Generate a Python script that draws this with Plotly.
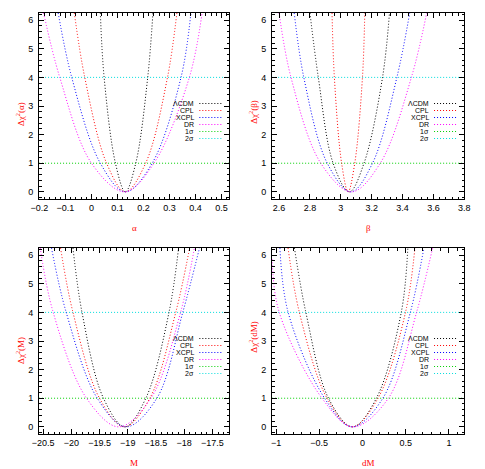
import plotly.graph_objects as go

# ---------------- data ----------------
MODELS = ["ΛCDM", "CPL", "XCPL", "DR"]
MODEL_COLORS = ["#000000", "#ff0000", "#0000ff", "#ff00ff"]
SIGMA_NAMES = ["1σ", "2σ"]
SIGMA_LEVELS = [1, 4]
SIGMA_COLORS = ["#00d000", "#00dddd"]

# Delta chi^2 levels at which each curve was read (frame top, 2σ, 1σ, minimum, 1σ, 2σ, frame top)
DCHI2_LEVELS = [6.25, 4, 1, 0, 1, 4, 6.25]

ALPHA_LCDM = [0.034, 0.0485, 0.092, 0.13, 0.17, 0.216, 0.236]
ALPHA_CPL = [-0.066, -0.026, 0.058, 0.13, 0.208, 0.292, 0.328]
ALPHA_XCPL = [-0.128, -0.076, 0.034, 0.13, 0.233, 0.344, 0.382]
ALPHA_DR = [-0.184, -0.122, 0.0, 0.128, 0.24, 0.376, 0.425]

BETA_LCDM = [2.80, 2.854, 2.95, 3.055, 3.15, 3.27, 3.315]
BETA_CPL = [2.943, 2.958, 3.005, 3.047, 3.09, 3.14, 3.155]
BETA_XCPL = [2.698, 2.76, 2.912, 3.065, 3.205, 3.363, 3.446]
BETA_DR = [2.60, 2.677, 2.87, 3.07, 3.255, 3.457, 3.556]

M_LCDM = [-19.97, -19.81, -19.43, -19.05, -18.68, -18.27, -18.10]
M_CPL = [-20.19, -19.97, -19.50, -19.06, -18.61, -18.15, -17.905]
M_XCPL = [-20.35, -20.09, -19.54, -19.03, -18.485, -18.026, -17.73]
M_DR = [-20.55, -20.32, -19.73, -19.16, -18.59, -18.065, -17.82]

DM_LCDM = [-0.787, -0.655, -0.393, -0.115, 0.161, 0.449, 0.525]
DM_CPL = [-0.861, -0.73, -0.41, -0.12, 0.18, 0.498, 0.607]
DM_XCPL = [-0.955, -0.86, -0.438, -0.12, 0.236, 0.554, 0.711]
DM_DR = [-1.045, -0.963, -0.468, -0.11, 0.30, 0.626, 0.812]
DM_DR_LEVELS = [5.86, 4, 1, 0, 1, 4, 6.25]

PANELS = [
    dict(xlab="α", ylab="Δχ<sup>2</sup>(α)", curves=[ALPHA_LCDM, ALPHA_CPL, ALPHA_XCPL, ALPHA_DR],
         levels=[DCHI2_LEVELS] * 4, xrange=[-0.2015, 0.53], dtick=0.1, minor=0.02),
    dict(xlab="β", ylab="Δχ<sup>2</sup>(β)", curves=[BETA_LCDM, BETA_CPL, BETA_XCPL, BETA_DR],
         levels=[DCHI2_LEVELS] * 4, xrange=[2.555, 3.8005], dtick=0.2, minor=0.04),
    dict(xlab="M", ylab="Δχ<sup>2</sup>(M)", curves=[M_LCDM, M_CPL, M_XCPL, M_DR],
         levels=[DCHI2_LEVELS] * 4, xrange=[-20.57, -17.2], dtick=0.5, minor=0.1),
    dict(xlab="dM", ylab="Δχ<sup>2</sup>(dM)", curves=[DM_LCDM, DM_CPL, DM_XCPL, DM_DR],
         levels=[DCHI2_LEVELS] * 3 + [DM_DR_LEVELS], xrange=[-1.045, 1.18], dtick=0.5, minor=0.1),
]
YRANGE = [-0.25, 6.25]

# ---------------- layout geometry ----------------
W, H = 485, 469
XDOM = [[32 / W, 228 / W], [272 / W, 470 / W], [32 / W, 228 / W], [272 / W, 470 / W]]
YDOM = [[(H - 199) / H, (H - 13) / H], [(H - 199) / H, (H - 13) / H],
        [(H - 434) / H, (H - 248) / H], [(H - 434) / H, (H - 248) / H]]
YLAB_Y = [0.457, 0.469, 0.447, 0.523]

FONT = "Liberation Sans"
DOT = "1px,2px"
fig = go.Figure()
shapes = []
annotations = []

for i, p in enumerate(PANELS):
    n = "" if i == 0 else str(i + 1)
    xa, ya = "x" + n, "y" + n
    for name, color, xs, ys in zip(MODELS, MODEL_COLORS, p["curves"], p["levels"]):
        fig.add_trace(go.Scatter(
            x=xs, y=ys, mode="lines", name=name, showlegend=False,
            line=dict(color=color, width=1, dash=DOT, shape="spline", smoothing=1.0),
            xaxis=xa, yaxis=ya, cliponaxis=True, hoverinfo="skip"))
    for lvl, col in zip(SIGMA_LEVELS, SIGMA_COLORS):
        shapes.append(dict(type="line", xref=xa + " domain", yref=ya, x0=0, x1=1, y0=lvl, y1=lvl,
                           line=dict(color=col, width=1, dash=DOT), layer="below"))
    # gnuplot-like key: text right-justified then sample line
    names = MODELS + SIGMA_NAMES
    cols = MODEL_COLORS + SIGMA_COLORS
    for k, (nm, col) in enumerate(zip(names, cols)):
        yk = 1 - (90.5 + 7 * k) / 186
        annotations.append(dict(text=nm, xref=xa + " domain", yref=ya + " domain", x=0.824, y=yk,
                                xanchor="right", yanchor="middle", showarrow=False,
                                font=dict(family=FONT, size=7, color="black")))
        shapes.append(dict(type="line", xref=xa + " domain", yref=ya + " domain",
                           x0=0.842, x1=0.962, y0=yk, y1=yk,
                           line=dict(color=col, width=1, dash=DOT)))
    # axis titles
    annotations.append(dict(text=p["xlab"], xref=xa + " domain", yref=ya + " domain", x=0.5, y=-0.156,
                            xanchor="center", yanchor="middle", showarrow=False,
                            font=dict(family="Liberation Serif", size=9, color="#ff0000")))
    annotations.append(dict(text=p["ylab"], xref=xa + " domain", yref=ya + " domain", x=-0.1, y=YLAB_Y[i],
                            xanchor="center", yanchor="middle", showarrow=False, textangle=-90,
                            font=dict(family="Liberation Serif", size=9, color="#ff0000")))
    common = dict(showline=True, linecolor="black", linewidth=1, mirror="ticks", ticks="inside",
                  ticklen=5, tickcolor="black", showgrid=False, zeroline=False,
                  tickfont=dict(family=FONT, size=9, color="black"))
    fig.layout["xaxis" + n] = dict(domain=XDOM[i], range=p["xrange"], anchor=ya, dtick=p["dtick"],
                                   tick0=0, minor=dict(ticks="inside", ticklen=2.5, dtick=p["minor"],
                                                       tickcolor="black", showgrid=False), **common)
    fig.layout["yaxis" + n] = dict(domain=YDOM[i], range=YRANGE, anchor=xa, dtick=1, tick0=0,
                                   ticklabelstandoff=3,
                                   minor=dict(ticks="inside", ticklen=2.5, dtick=0.2,
                                              tickcolor="black", showgrid=False), **common)

fig.update_layout(width=W, height=H, margin=dict(l=0, r=0, t=0, b=0),
                  paper_bgcolor="white", plot_bgcolor="white", showlegend=False,
                  shapes=shapes, annotations=annotations)
fig.write_html("out.html", config={"displayModeBar": False, "staticPlot": True},
               post_script="document.body.style.margin='0';document.body.style.overflow='hidden';")
